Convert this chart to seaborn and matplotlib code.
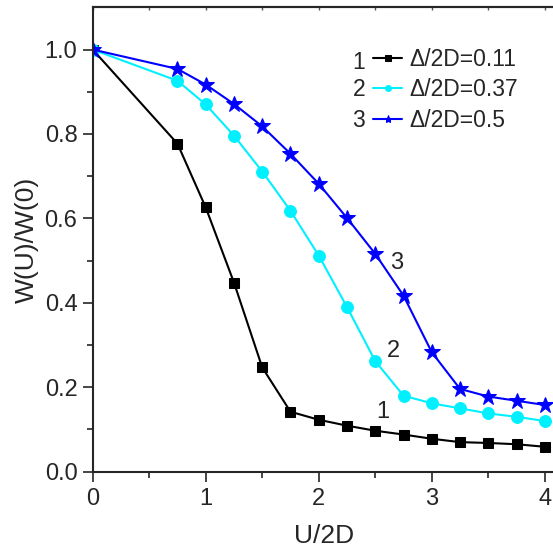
import matplotlib.pyplot as plt
import pandas as pd
import seaborn as sns

# U/2D values shared by all curves
u = [0, 0.75, 1.0, 1.25, 1.5, 1.75, 2.0, 2.25, 2.5, 2.75, 3.0, 3.25, 3.5, 3.75, 4.0]

# W(U)/W(0) for each Delta/2D
w_011 = [1.0, 0.777, 0.626, 0.448, 0.247, 0.142, 0.123, 0.109, 0.097, 0.088, 0.078, 0.070, 0.068, 0.065, 0.059]
w_037 = [1.0, 0.926, 0.870, 0.796, 0.711, 0.618, 0.512, 0.390, 0.262, 0.180, 0.162, 0.150, 0.138, 0.130, 0.120]
w_050 = [1.0, 0.954, 0.917, 0.871, 0.818, 0.753, 0.682, 0.601, 0.516, 0.417, 0.283, 0.196, 0.178, 0.168, 0.158]

curve_ids = ["1", "2", "3"]
legend_labels = ["\u0394/2D=0.11", "\u0394/2D=0.37", "\u0394/2D=0.5"]
colors = ["black", "#00f0ff", "#0000ff"]
markers = ["s", "o", "*"]
marker_sizes = [7.5, 8.5, 12]

sns.set_style("ticks")
plt.rcParams["font.family"] = ["Liberation Sans", "DejaVu Sans"]

fig = plt.figure(figsize=(5.53, 5.5), dpi=100)
ax = fig.add_axes([0.1676, 0.1424, 0.8380, 0.8443])

for i, w in enumerate([w_011, w_037, w_050]):
    df = pd.DataFrame({"u": u, "w": w})
    sns.lineplot(
        data=df, x="u", y="w", ax=ax, color=colors[i], marker=markers[i],
        markersize=marker_sizes[i], markeredgecolor=colors[i], linewidth=1.5,
        label=legend_labels[i],
    )

# curve numbers next to the lines
ax.text(2.69, 0.495, "3", fontsize=17, ha="center", va="center")
ax.text(2.66, 0.286, "2", fontsize=17, ha="center", va="center")
ax.text(2.57, 0.142, "1", fontsize=17, ha="center", va="center")

ax.set_xlim(0, 4.1)
ax.set_ylim(0, 1.1)
ax.set_xticks([0, 1, 2, 3, 4])
ax.set_xticks([0.5, 1.5, 2.5, 3.5], minor=True)
ax.set_yticks([0.0, 0.2, 0.4, 0.6, 0.8, 1.0])
ax.set_yticks([0.1, 0.3, 0.5, 0.7, 0.9], minor=True)
ax.set_yticklabels(["0.0", "0.2", "0.4", "0.6", "0.8", "1.0"])
ax.tick_params(axis="both", which="major", labelsize=17, length=7, width=1.2, pad=4,
               direction="out")
ax.tick_params(axis="both", which="minor", length=4, width=1.2, direction="out")
ax.tick_params(axis="x", which="major", pad=5)
for s in ax.spines.values():
    s.set_linewidth(1.5)

# small inward ticks on the top frame
top = ax.secondary_xaxis("top")
top.set_xticks([0, 0.5, 1, 1.5, 2, 2.5, 3, 3.5, 4])
top.tick_params(direction="in", length=2.5, width=1, labeltop=False, color="#555555")
top.spines["top"].set_linewidth(1.5)

ax.set_xlabel("U/2D", fontsize=19, labelpad=10)
ax.set_ylabel("W(U)/W(0)", fontsize=19, labelpad=4)

leg = ax.legend(loc="center left", bbox_to_anchor=(0.605, 0.822), frameon=False,
                fontsize=16.5, markerscale=0.5, handlelength=1.27, handletextpad=0.3,
                labelspacing=0.34, borderpad=0, borderaxespad=0)
for j, t in enumerate(curve_ids):
    ax.text(0.588, [0.882, 0.822, 0.757][j], t, transform=ax.transAxes, fontsize=16.5,
            ha="right", va="center")

fig.savefig("out.png", dpi=100)
